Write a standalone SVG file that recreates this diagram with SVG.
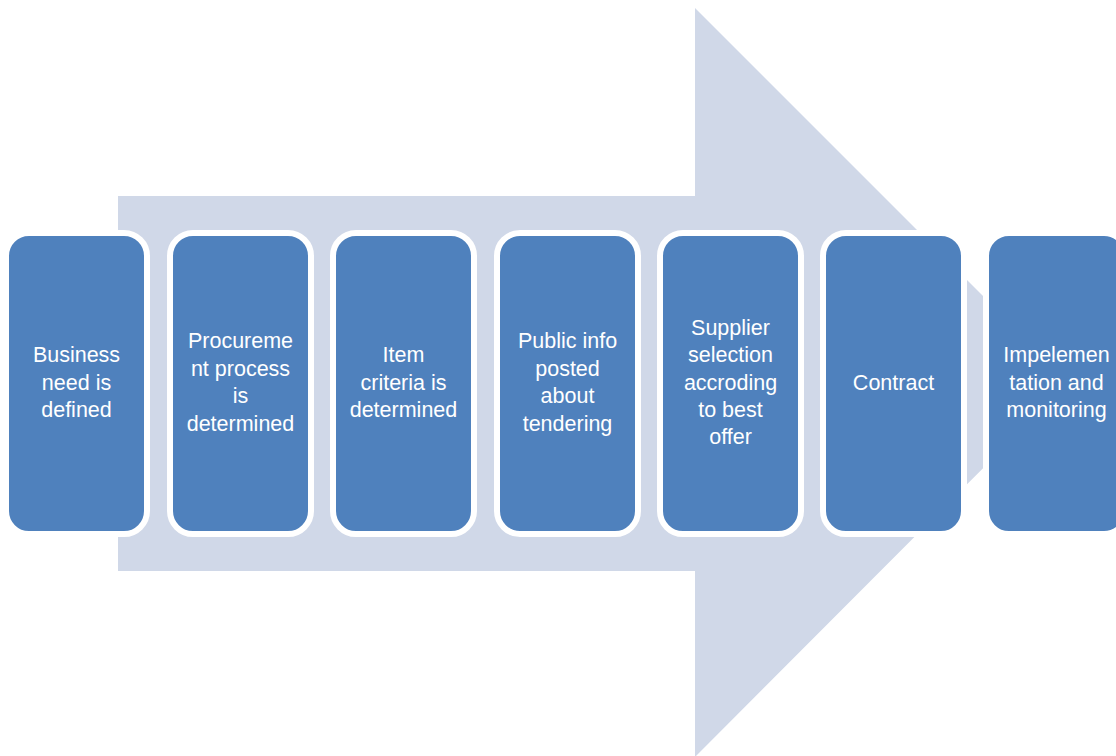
<svg xmlns="http://www.w3.org/2000/svg" width="1116" height="756" viewBox="0 0 1116 756">
<style>
.box{fill:#4f81bd;stroke:#ffffff;stroke-width:6}
.t{font-family:"Liberation Sans",Arial,sans-serif;font-size:21.5px;fill:#ffffff;text-anchor:middle;dominant-baseline:central}
</style>
<rect width="1116" height="756" fill="#ffffff"/>
<g id="arrow">
<polygon points="118,196 695,196 695,8 1069,382 695,757 695,571 118,571" fill="#d0d8e8"/>
</g>
<g id="connectors"></g>
<g id="n1"><rect class="box" x="6" y="233" width="141" height="301" rx="23"/>
<text class="t" x="76.5" y="355">Business</text><text class="t" x="76.5" y="383">need is</text><text class="t" x="76.5" y="410">defined</text></g>
<g id="n2"><rect class="box" x="170" y="233" width="141" height="301" rx="23"/>
<text class="t" x="240.5" y="341">Procureme</text><text class="t" x="240.5" y="369">nt process</text><text class="t" x="240.5" y="396">is</text><text class="t" x="240.5" y="424">determined</text></g>
<g id="n3"><rect class="box" x="333" y="233" width="141" height="301" rx="23"/>
<text class="t" x="403.5" y="355">Item</text><text class="t" x="403.5" y="383">criteria is</text><text class="t" x="403.5" y="410">determined</text></g>
<g id="n4"><rect class="box" x="497" y="233" width="141" height="301" rx="23"/>
<text class="t" x="567.5" y="341">Public info</text><text class="t" x="567.5" y="369">posted</text><text class="t" x="567.5" y="396">about</text><text class="t" x="567.5" y="424">tendering</text></g>
<g id="n5"><rect class="box" x="660" y="233" width="141" height="301" rx="23"/>
<text class="t" x="730.5" y="328">Supplier</text><text class="t" x="730.5" y="355">selection</text><text class="t" x="730.5" y="383">accroding</text><text class="t" x="730.5" y="410">to best</text><text class="t" x="730.5" y="437">offer</text></g>
<g id="n6"><rect class="box" x="823" y="233" width="141" height="301" rx="23"/>
<text class="t" x="893.5" y="383">Contract</text></g>
<g id="n7"><rect class="box" x="986" y="233" width="141" height="301" rx="23"/>
<text class="t" x="1056.5" y="355">Impelemen</text><text class="t" x="1056.5" y="383">tation and</text><text class="t" x="1056.5" y="410">monitoring</text></g>
</svg>
